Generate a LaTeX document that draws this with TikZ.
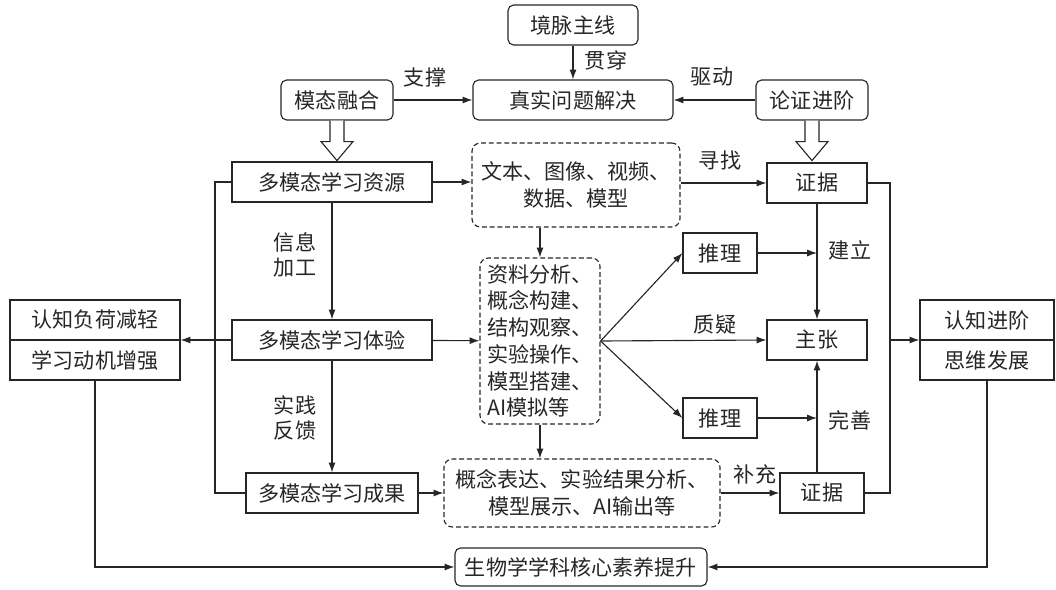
\documentclass[tikz,border=0pt]{standalone}
\usepackage{fontspec}
\setmainfont{Noto Sans CJK SC}
\usetikzlibrary{arrows.meta}

\tikzset{
  every picture/.style={black!85},
  box/.style={draw, line width=0.8pt, minimum height=1cm, inner sep=2pt, font=\fontsize{15}{18}\selectfont},
  rbox/.style={box, rounded corners=4pt},
  dbox/.style={draw, dash pattern=on 3.5pt off 2pt, rounded corners=6pt, line width=0.8pt, inner sep=2pt, font=\fontsize{15}{19}\selectfont},
  lbl/.style={font=\fontsize{15}{18}\selectfont, align=center},
  arr/.style={-{Latex[length=7pt,width=5pt]}, line width=0.8pt},
  ln/.style={line width=0.8pt},
  hollow/.style={line width=0.8pt, fill=white},
}

\begin{document}
\begin{tikzpicture}[x=0.025cm,y=-0.025cm]
\useasboundingbox (0,0) rectangle (1056,590);

%--- top row ---------------------------------------
\node[rbox, minimum width=3.25cm] (jm) at (573,25) {境脉主线};
\node[rbox, minimum width=5cm]    (zs) at (573,100) {真实问题解决};
\node[rbox, minimum width=2.8cm]  (mf) at (337,100) {模态融合};
\node[rbox, minimum width=2.8cm]  (lz) at (812,100) {论证进阶};

%--- learning column -------------------------------
\node[box, minimum width=5cm]   (zy) at (332,182) {多模态学习资源};
\node[box, minimum width=5cm]   (ty) at (332,340) {多模态学习体验};
\node[box, minimum width=4.3cm] (cg) at (332,493) {多模态学习成果};

%--- dashed boxes ----------------------------------
\node[dbox, align=center, minimum width=5.2cm, minimum height=2.1cm] (wb) at (576,185) {文本、图像、视频、\\数据、模型};
\node[dbox, align=left, minimum width=3cm, minimum height=4.15cm] (zl) at (540,341)
  {资料分析、\\概念构建、\\结构观察、\\实验操作、\\模型搭建、\\AI模拟等};
\node[dbox, align=center, minimum width=6.9cm, minimum height=1.7cm] (gn) at (582,493) {概念表达、实验结果分析、\\模型展示、AI输出等};

%--- argument column -------------------------------
\node[box, minimum width=2.5cm]  (zj1) at (817,183) {证据};
\node[box, minimum width=2.5cm]  (zz)  at (817,340) {主张};
\node[box, minimum width=2.1cm]  (zj2) at (822,493) {证据};
\node[box, minimum width=1.85cm] (tl1) at (720,253) {推理};
\node[box, minimum width=1.85cm] (tl2) at (720,418) {推理};

%--- side boxes ------------------------------------
\node[box, minimum width=4.25cm] (lt) at (95,320) {认知负荷减轻};
\node[box, minimum width=4.25cm] (lb) at (95,360) {学习动机增强};
\node[box, minimum width=3.35cm] (rt) at (987,320) {认知进阶};
\node[box, minimum width=3.35cm] (rb) at (987,360) {思维发展};

\node[rbox, minimum width=6.3cm, minimum height=0.95cm] (sw) at (581,567) {生物学学科核心素养提升};

%--- labels ----------------------------------------
\node[lbl] (l_gc) at (606,60)  {贯穿};
\node[lbl] (l_zc) at (425,77)  {支撑};
\node[lbl] (l_qd) at (712,77)  {驱动};
\node[lbl] (l_xz) at (720,160) {寻找};
\node[lbl] (l_xx) at (295,255) {信息\\加工};
\node[lbl] (l_sj) at (295,418) {实践\\反馈};
\node[lbl] (l_jl) at (850,250) {建立};
\node[lbl] (l_zy) at (715,325) {质疑};
\node[lbl] (l_ws) at (850,420) {完善};
\node[lbl] (l_bc) at (755,474) {补充};

%--- connectors ------------------------------------
\draw[arr] (jm) -- (zs);
\draw[arr] (mf) -- (zs);
\draw[arr] (lz) -- (zs);

\draw[hollow] (mf.south) ++(-7,0) -- ++(0,21) -- ++(-9,0) -- ++(16,19) -- ++(16,-19) -- ++(-9,0) -- ++(0,-21);
\draw[hollow] (lz.south) ++(-7,0) -- ++(0,21) -- ++(-9,0) -- ++(16,19) -- ++(16,-19) -- ++(-9,0) -- ++(0,-21);

\draw[arr] (zy) -- (ty);
\draw[arr] (ty) -- (cg);
\draw[arr] (zy) -- (zy -| wb.west);
\draw[arr] (ty) -- (zl);
\draw[arr] (cg) -- (gn);
\draw[arr] (wb.south -| zl) -- (zl);
\draw[arr] (zl) -- (zl |- gn.north);

\draw[arr] (wb.east |- zj1) -- (zj1);
\draw[arr] (zl.east) -- (tl1.west);
\draw[arr] (zl.east) -- (zz.west);
\draw[arr] (zl.east) -- (tl2.west);
\draw[arr] (tl1) -- (tl1 -| zz);
\draw[arr] (tl2) -- (tl2 -| zz);
\draw[arr] (zj1) -- (zz);
\draw[arr] (zj2.north -| zz) -- (zz);
\draw[arr] (gn.east |- zj2) -- (zj2);

% left and right junctions
\coordinate (lj) at (215,340);
\coordinate (rj) at (890,340);
\draw[ln] (zy.west) -| (lj) |- (cg.west);
\draw[arr] (ty.west) -- (ty.west -| lt.east);
\draw[ln] (zj1.east) -| (rj) |- (zj2.east);
\draw[arr] (rj) -- (rj -| rt.west);

\draw[arr] (lb.south) |- (sw.west);
\draw[arr] (rb.south) |- (sw.east);

\end{tikzpicture}
\end{document}
